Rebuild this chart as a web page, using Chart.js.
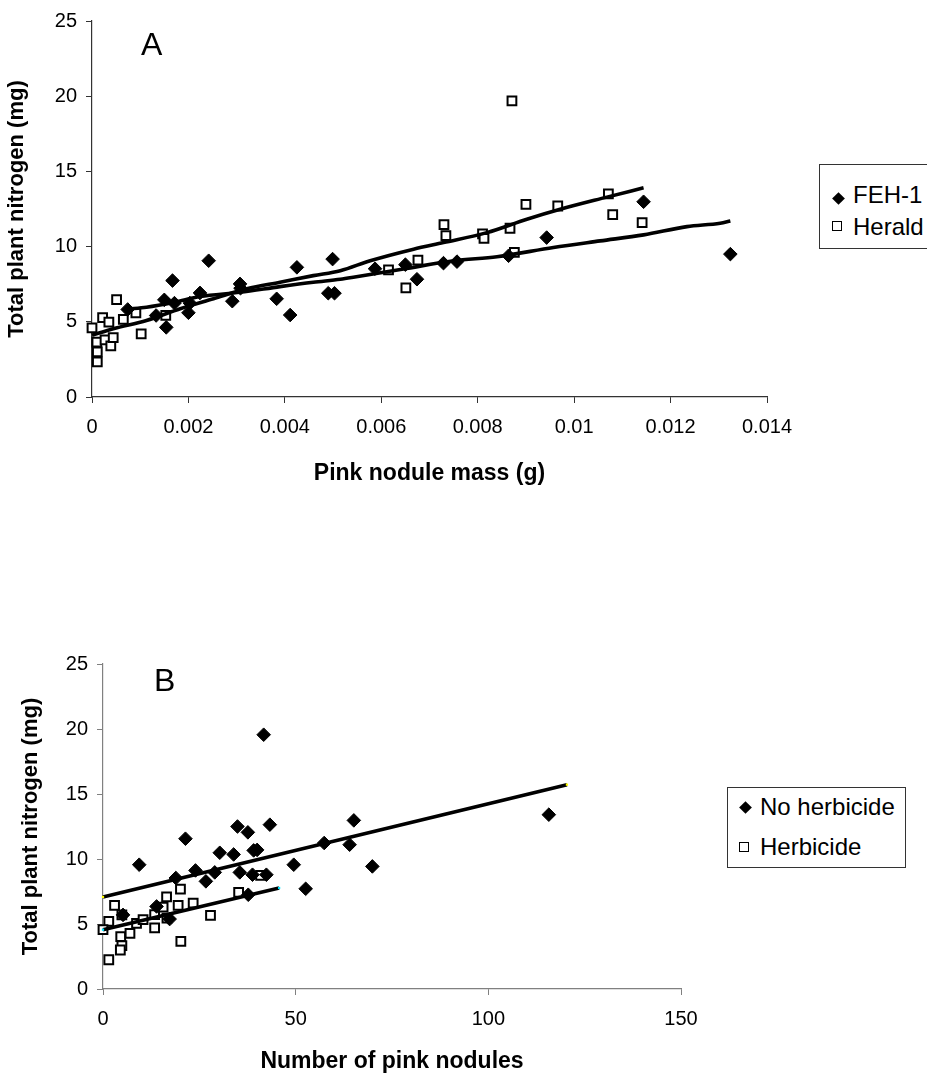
<!DOCTYPE html>
<html>
<head>
<meta charset="utf-8">
<script src="https://cdn.jsdelivr.net/npm/chart.js@4/dist/chart.umd.min.js"></script>
<style>
  html, body { margin: 0; padding: 0; background: #fff; }
  body { width: 927px; height: 1077px; position: relative; overflow: hidden; font-family: Arial, "Liberation Sans", sans-serif; }
  canvas { position: absolute; left: 0; }
  .panel-tag { position: absolute; font-size: 32px; line-height: 32px; color: #000; }
  .legend-box { position: absolute; border: 1px solid #333; background: #fff; box-sizing: border-box; }
  .legend-text { position: absolute; font-size: 24px; line-height: 24px; color: #000; white-space: nowrap; }
  .mk-diamond { position: absolute; width: 9px; height: 9px; background: #000; transform: rotate(45deg); }
  .mk-square { position: absolute; width: 10px; height: 10px; border: 1.8px solid #000; background: #fff; box-sizing: border-box; }
</style>
</head>
<body>
<canvas id="chartA" width="927" height="500" style="top:0"></canvas>
<canvas id="chartB" width="927" height="517" style="top:560px"></canvas>

<div class="panel-tag" style="left:141px; top:28px">A</div>
<div class="panel-tag" style="left:154px; top:664px">B</div>

<div class="legend-box" style="left:819px; top:164px; width:130px; height:85px"></div>
<div class="mk-diamond" style="left:834px; top:194px"></div>
<div class="legend-text" style="left:853px; top:183px">FEH-1</div>
<div class="mk-square" style="left:832px; top:221px"></div>
<div class="legend-text" style="left:853px; top:215px">Herald</div>

<div class="legend-box" style="left:727px; top:787px; width:179px; height:81px"></div>
<div class="mk-diamond" style="left:741px; top:803px"></div>
<div class="legend-text" style="left:760px; top:795px">No herbicide</div>
<div class="mk-square" style="left:739px; top:842px"></div>
<div class="legend-text" style="left:760px; top:835px">Herbicide</div>

<script>
// ---- panel A: total N vs pink nodule mass ----
const feh1Mass = [0.00074, 0.00133, 0.0015, 0.00154, 0.00167, 0.00171, 0.0020, 0.00203, 0.00224, 0.00242,
  0.00291, 0.00307, 0.00308, 0.00383, 0.00411, 0.00425, 0.0049, 0.00499, 0.00503, 0.00587,
  0.0065, 0.00674, 0.00729, 0.00757, 0.00864, 0.00943, 0.01144, 0.01324];
const feh1N = [5.82, 5.42, 6.46, 4.63, 7.74, 6.24, 5.6, 6.24, 6.92, 9.06,
  6.37, 7.52, 7.23, 6.53, 5.45, 8.62, 6.9, 9.17, 6.9, 8.53,
  8.8, 7.83, 8.9, 9.0, 9.39, 10.6, 12.98, 9.5];

const heraldMass = [0, 0.0001, 0.00011, 0.00011, 0.00022, 0.00027, 0.00035, 0.00039, 0.00044, 0.00051,
  0.00065, 0.00091, 0.00102, 0.00153, 0.00615, 0.00651, 0.00676, 0.0073, 0.00734, 0.0081,
  0.00813, 0.00867, 0.00871, 0.00876, 0.009, 0.00966, 0.01071, 0.0108, 0.01141];
const heraldN = [4.6, 3.65, 3.0, 2.33, 5.27, 3.8, 4.98, 3.4, 3.95, 6.48,
  5.16, 5.6, 4.2, 5.42, 8.45, 7.25, 9.1, 11.46, 10.73, 10.85,
  10.54, 11.22, 19.69, 9.61, 12.81, 12.7, 13.51, 12.12, 11.6];

// smoothed trend curves
const feh1TrendMass = [0.00074, 0.00113, 0.00171, 0.00224, 0.00307, 0.0039, 0.00459, 0.00515, 0.00542, 0.00646,
  0.0075, 0.0084, 0.00957, 0.01054, 0.01144, 0.01234, 0.01303, 0.01324];
const feh1TrendN = [5.85, 5.97, 6.3, 6.68, 6.96, 7.34, 7.63, 7.83, 7.96, 8.51,
  9.06, 9.33, 9.94, 10.38, 10.78, 11.33, 11.55, 11.7];

const heraldTrendMass = [0, 0.00044, 0.00113, 0.00183, 0.00252, 0.00321, 0.0039, 0.00459, 0.00515, 0.00577,
  0.00667, 0.00729, 0.00819, 0.00902, 0.00971, 0.01068, 0.01144];
const heraldTrendN = [4.1, 4.54, 5.09, 5.87, 6.53, 7.19, 7.63, 8.07, 8.4, 9.06,
  9.83, 10.27, 10.93, 11.82, 12.48, 13.29, 13.91];

const massTickLabels = ['0', '0.002', '0.004', '0.006', '0.008', '0.01', '0.012', '0.014'];

// ---- panel B: total N vs number of pink nodules ----
const noHerbCount = [41.7, 43.3, 34.9, 37.6, 21.4, 30.3, 33.9, 39.1, 40.0, 9.4,
  18.9, 24.0, 26.7, 29.0, 35.5, 38.8, 42.4, 49.5, 52.6, 57.4,
  37.7, 17.3, 13.9, 5.2, 65.1, 64.0, 69.9, 115.7];
const noHerbN = [19.56, 12.64, 12.5, 12.05, 11.56, 10.48, 10.35, 10.66, 10.7, 9.56,
  8.54, 9.12, 8.28, 8.97, 8.97, 8.79, 8.79, 9.56, 7.71, 11.23,
  7.25, 5.38, 6.35, 5.7, 12.97, 11.1, 9.43, 13.41];

const herbCount = [40.9, 35.2, 27.9, 20.2, 20.1, 16.5, 23.4, 19.5, 15.6, 13.4,
  13.4, 8.7, 10.4, 3.0, 4.9, 1.5, 0, 4.6, 7.0, 4.9,
  4.5, 1.5, 16.6];
const herbN = [8.74, 7.43, 5.66, 3.66, 7.69, 7.08, 6.6, 6.43, 6.3, 5.72,
  4.7, 5.05, 5.33, 6.43, 5.7, 5.2, 4.56, 4.02, 4.27, 3.34,
  3.0, 2.25, 5.46];

const noHerbFitCount = [0, 120.4];
const noHerbFitN = [7.08, 15.72];
const herbFitCount = [0, 45.7];
const herbFitN = [4.56, 7.77];

const countTickLabels = ['0', '50', '100', '150'];

Chart.defaults.font.family = 'Arial, "Liberation Sans", sans-serif';
Chart.defaults.color = '#000';

function toPoints(xs, ys) {
  return xs.map((x, i) => ({ x: x, y: ys[i] }));
}

function diamondSet(label, xs, ys) {
  return {
    label: label,
    data: toPoints(xs, ys),
    pointStyle: 'rectRot',
    pointRadius: 6.8,
    backgroundColor: '#000',
    borderColor: '#000',
    borderWidth: 1,
    showLine: false,
    clip: false,
    order: 2
  };
}

function squareSet(label, xs, ys) {
  return {
    label: label,
    data: toPoints(xs, ys),
    pointStyle: 'rect',
    pointRadius: 6.2,
    backgroundColor: '#fff',
    borderColor: '#000',
    borderWidth: 2,
    showLine: false,
    clip: false,
    order: 3
  };
}

function trendSet(label, xs, ys, smooth, endColor) {
  return {
    label: label,
    data: toPoints(xs, ys),
    showLine: true,
    borderColor: '#000',
    borderWidth: 3.6,
    cubicInterpolationMode: smooth ? 'monotone' : 'default',
    tension: smooth ? 0.4 : 0,
    pointRadius: endColor ? 1.6 : 0,
    pointStyle: 'rect',
    pointBackgroundColor: endColor || '#000',
    pointBorderWidth: 0,
    fill: false,
    clip: false,
    order: 1
  };
}

function buildScatter(canvasId, cfg) {
  const ctx = document.getElementById(canvasId).getContext('2d');
  const axisColor = cfg.axisColor;
  return new Chart(ctx, {
    type: 'scatter',
    data: { datasets: cfg.datasets },
    options: {
      responsive: false,
      animation: false,
      events: [],
      layout: { padding: cfg.padding },
      plugins: { legend: { display: false }, tooltip: { enabled: false } },
      scales: {
        x: {
          type: 'linear',
          min: cfg.xMin,
          max: cfg.xMax,
          afterFit: (scale) => { scale.height = cfg.xAxisHeight; },
          grid: { drawOnChartArea: false, drawTicks: true, tickLength: 6, color: axisColor },
          border: { display: true, color: axisColor, width: 1.2 },
          ticks: {
            stepSize: cfg.xStep,
            padding: 12,
            font: { size: 20 },
            color: '#000',
            callback: (value, index) => cfg.xLabels[index]
          },
          title: {
            display: true,
            text: cfg.xTitle,
            font: { size: 23, weight: 'bold' },
            color: '#000',
            padding: { top: 0, bottom: 0 }
          }
        },
        y: {
          type: 'linear',
          min: 0,
          max: 25,
          afterFit: (scale) => { scale.width = cfg.yAxisWidth; },
          grid: { drawOnChartArea: false, drawTicks: true, tickLength: 6, color: axisColor },
          border: { display: true, color: axisColor, width: 1.2 },
          ticks: { stepSize: 5, padding: 9, font: { size: 20 }, color: '#000' },
          title: {
            display: true,
            text: 'Total plant nitrogen (mg)',
            font: { size: 22, weight: 'bold' },
            color: '#000',
            padding: { top: 4, bottom: 0 }
          }
        }
      }
    }
  });
}

buildScatter('chartA', {
  axisColor: '#333',
  padding: { left: 0, top: 19, right: 160, bottom: 13 },
  xAxisHeight: 90,
  yAxisWidth: 92,
  xMin: 0,
  xMax: 0.014,
  xStep: 0.002,
  xLabels: massTickLabels,
  xTitle: 'Pink nodule mass (g)',
  datasets: [
    trendSet('FEH-1 trend', feh1TrendMass, feh1TrendN, true),
    trendSet('Herald trend', heraldTrendMass, heraldTrendN, true),
    diamondSet('FEH-1', feh1Mass, feh1N),
    squareSet('Herald', heraldMass, heraldN)
  ]
});

buildScatter('chartB', {
  axisColor: '#808080',
  padding: { left: 14, top: 104, right: 246, bottom: 2 },
  xAxisHeight: 86,
  yAxisWidth: 89,
  xMin: 0,
  xMax: 150,
  xStep: 50,
  xLabels: countTickLabels,
  xTitle: 'Number of pink nodules',
  datasets: [
    trendSet('No herbicide fit', noHerbFitCount, noHerbFitN, false, '#ffff00'),
    trendSet('Herbicide fit', herbFitCount, herbFitN, false, '#00e5ff'),
    diamondSet('No herbicide', noHerbCount, noHerbN),
    squareSet('Herbicide', herbCount, herbN)
  ]
});
</script>
</body>
</html>
